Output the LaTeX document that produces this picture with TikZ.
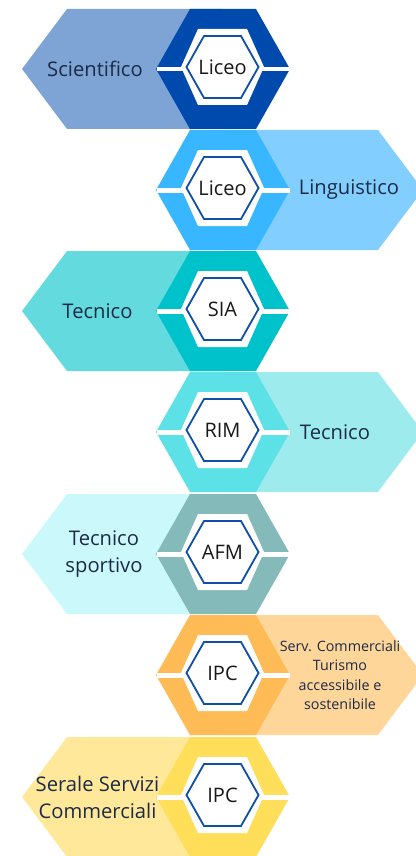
\documentclass[tikz,border=0pt]{standalone}
\usepackage{fontspec}
\setmainfont{Open Sans}
\definecolor{txt}{HTML}{1C2B46}
\definecolor{outl}{HTML}{0F4FA8}
\definecolor{hA}{HTML}{004AAD}\definecolor{aA}{HTML}{7EA3D5}
\definecolor{hB}{HTML}{38B6FF}\definecolor{aB}{HTML}{82CFFF}
\definecolor{hC}{HTML}{00C2CB}\definecolor{aC}{HTML}{62DADE}
\definecolor{hD}{HTML}{5CE1E6}\definecolor{aD}{HTML}{9EEBEE}
\definecolor{hE}{HTML}{84BABA}\definecolor{aE}{HTML}{CBF9FB}
\definecolor{hF}{HTML}{FFBB55}\definecolor{aF}{HTML}{FFD69A}
\definecolor{hG}{HTML}{FFDE59}\definecolor{aG}{HTML}{FFE89A}
\tikzset{
  lbl/.style={font=\fontsize{20.2}{27}\selectfont, text=txt, align=center, inner sep=0pt},
  small/.style={font=\fontsize{14.3}{19.5}\selectfont, text=txt, align=center, inner sep=0pt},
  code/.style={font=\fontsize{20}{22}\selectfont, text=black!90, inner sep=0pt},
  outer/.style={fill=white},
  inner/.style={draw=outl, line width=1.8pt, fill=white, line join=miter},
}
% #1 cy, #2 hex colour, #3 arrow colour, #4 L/R, #5 code, #6 label x, #7 label, #8 name, #9 label style
\newcommand\hexrow[9]{%
  \begin{scope}[shift={(0,#1)}]
    \if#4L
      \fill[#3] (22,0) -- (67,-60) -- (223,-60) -- (223,60) -- (67,60) -- cycle;
    \else
      \fill[#3] (423,0) -- (378,-60) -- (223,-60) -- (223,60) -- (378,60) -- cycle;
    \fi
    \fill[#2] (156,0) -- (190,-60) -- (256,-60) -- (290,0) -- (256,60) -- (190,60) -- cycle;
    \fill[white] (156.5,-2) rectangle (289.5,2.5);
    \fill[outer] (181,-2) -- (198,-40) -- (247,-40) -- (264,-2) -- (247,36) -- (198,36) -- cycle;
    \draw[inner] (186.5,-2) -- (204,-33) -- (241,-33) -- (258.5,-2) -- (241,29) -- (204,29) -- cycle;
    \node[code] (c#8) at (222.5,-2) {#5};
    \node[#9] (t#8) at (#6,0) {#7};
  \end{scope}}
\begin{document}
\begin{tikzpicture}[x=1pt,y=-1pt]
\useasboundingbox (0,0) rectangle (415,856);
\hexrow{69}{hA}{aA}{L}{Liceo}{95}{Scientifico}{1}{lbl}
\hexrow{190}{hB}{aB}{R}{Liceo}{349}{Linguistico}{2}{lbl}
\hexrow{311}{hC}{aC}{L}{SIA}{97.5}{Tecnico}{3}{lbl}
\hexrow{432}{hD}{aD}{R}{RIM}{335}{Tecnico}{4}{lbl}
\hexrow{554}{hE}{aE}{L}{AFM}{104}{Tecnico\\sportivo}{5}{lbl}
\hexrow{675}{hF}{aF}{R}{IPC}{340}{Serv. Commerciali\\Turismo\\accessibile e\\sostenibile}{6}{small}
\hexrow{797}{hG}{aG}{L}{IPC}{97.5}{Serale Servizi\\Commerciali}{7}{lbl}
\end{tikzpicture}
\end{document}
